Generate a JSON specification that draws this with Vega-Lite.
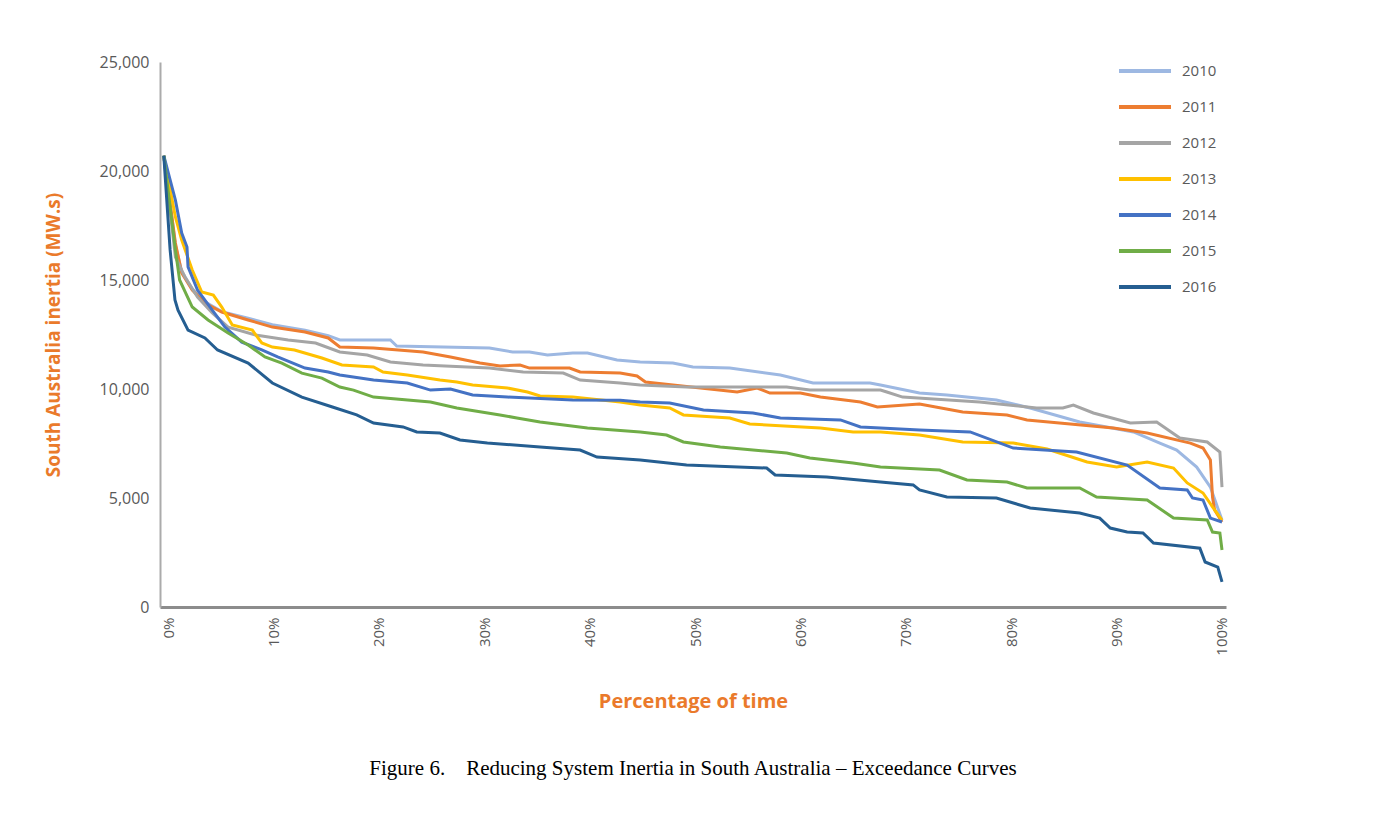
{
  "$schema": "https://vega.github.io/schema/vega-lite/v6.json",
  "width": 1066,
  "height": 545,
  "autosize": {"type": "none"},
  "padding": {"left": 160, "top": 62, "right": 148, "bottom": 207},
  "background": "white",
  "config": {"view": {"stroke": null}, "font": "Open Sans"},
  "title": {
    "text": "Figure 6.\u00a0\u00a0\u00a0 Reducing System Inertia in South Australia – Exceedance Curves",
    "orient": "bottom",
    "anchor": "middle",
    "font": "Liberation Serif",
    "fontSize": 21,
    "fontWeight": "normal",
    "color": "#000000",
    "offset": 47
  },
  "datasets": {
    "curves": [
      {"s":"2010","x":-0.4,"y":20700},{"s":"2010","x":0.7,"y":16600},{"s":"2010","x":1.3,"y":15400},{"s":"2010","x":2.3,"y":14600},{"s":"2010","x":3.5,"y":14000},{"s":"2010","x":5.1,"y":13550},{"s":"2010","x":7.6,"y":13250},{"s":"2010","x":9.9,"y":12950},{"s":"2010","x":13,"y":12700},{"s":"2010","x":15.2,"y":12450},{"s":"2010","x":16.3,"y":12250},{"s":"2010","x":21.1,"y":12250},{"s":"2010","x":21.7,"y":11970},{"s":"2010","x":30.5,"y":11880},{"s":"2010","x":32.7,"y":11700},{"s":"2010","x":34.3,"y":11700},{"s":"2010","x":36,"y":11560},{"s":"2010","x":38.4,"y":11650},{"s":"2010","x":39.8,"y":11650},{"s":"2010","x":42.6,"y":11330},{"s":"2010","x":44.8,"y":11240},{"s":"2010","x":47.9,"y":11190},{"s":"2010","x":49.8,"y":11010},{"s":"2010","x":53.3,"y":10960},{"s":"2010","x":58.1,"y":10640},{"s":"2010","x":61.2,"y":10275},{"s":"2010","x":66.6,"y":10275},{"s":"2010","x":67.6,"y":10180},{"s":"2010","x":71.3,"y":9815},{"s":"2010","x":73.9,"y":9725},{"s":"2010","x":78.6,"y":9495},{"s":"2010","x":81.8,"y":9130},{"s":"2010","x":86.5,"y":8490},{"s":"2010","x":91.6,"y":8030},{"s":"2010","x":94.1,"y":7520},{"s":"2010","x":95.7,"y":7200},{"s":"2010","x":97.6,"y":6420},{"s":"2010","x":98.9,"y":5500},{"s":"2010","x":100,"y":3990},
      {"s":"2011","x":-0.4,"y":20700},{"s":"2011","x":0.7,"y":16700},{"s":"2011","x":1.3,"y":15320},{"s":"2011","x":2.3,"y":14540},{"s":"2011","x":3.5,"y":13945},{"s":"2011","x":5.1,"y":13530},{"s":"2011","x":7.6,"y":13165},{"s":"2011","x":9.9,"y":12840},{"s":"2011","x":13,"y":12615},{"s":"2011","x":15.2,"y":12340},{"s":"2011","x":16.3,"y":11925},{"s":"2011","x":19.5,"y":11880},{"s":"2011","x":24.2,"y":11700},{"s":"2011","x":26.8,"y":11470},{"s":"2011","x":29.6,"y":11190},{"s":"2011","x":31.5,"y":11055},{"s":"2011","x":33.4,"y":11100},{"s":"2011","x":34.3,"y":10960},{"s":"2011","x":38.1,"y":10960},{"s":"2011","x":39.1,"y":10780},{"s":"2011","x":42.9,"y":10730},{"s":"2011","x":44.5,"y":10600},{"s":"2011","x":45.3,"y":10320},{"s":"2011","x":54,"y":9860},{"s":"2011","x":55.9,"y":10045},{"s":"2011","x":57.1,"y":9815},{"s":"2011","x":60,"y":9815},{"s":"2011","x":61.9,"y":9630},{"s":"2011","x":65.7,"y":9400},{"s":"2011","x":67.3,"y":9175},{"s":"2011","x":71.3,"y":9310},{"s":"2011","x":75.4,"y":8945},{"s":"2011","x":79.6,"y":8810},{"s":"2011","x":81.5,"y":8580},{"s":"2011","x":89.7,"y":8210},{"s":"2011","x":92.9,"y":7980},{"s":"2011","x":97,"y":7520},{"s":"2011","x":98.2,"y":7290},{"s":"2011","x":98.9,"y":6740},{"s":"2011","x":99.1,"y":5045},{"s":"2011","x":99.3,"y":4450},{"s":"2011","x":100,"y":3900},
      {"s":"2012","x":-0.4,"y":20700},{"s":"2012","x":0.7,"y":16055},{"s":"2012","x":1.6,"y":15140},{"s":"2012","x":2.8,"y":14220},{"s":"2012","x":4.2,"y":13490},{"s":"2012","x":5.7,"y":12840},{"s":"2012","x":8.3,"y":12475},{"s":"2012","x":11.4,"y":12250},{"s":"2012","x":14,"y":12110},{"s":"2012","x":16.3,"y":11700},{"s":"2012","x":18.9,"y":11560},{"s":"2012","x":21.1,"y":11240},{"s":"2012","x":24.2,"y":11100},{"s":"2012","x":30.5,"y":10960},{"s":"2012","x":33.7,"y":10780},{"s":"2012","x":37.5,"y":10730},{"s":"2012","x":39.1,"y":10410},{"s":"2012","x":42.9,"y":10275},{"s":"2012","x":44.8,"y":10180},{"s":"2012","x":49.2,"y":10090},{"s":"2012","x":58.7,"y":10090},{"s":"2012","x":60.9,"y":9950},{"s":"2012","x":67.6,"y":9950},{"s":"2012","x":68.2,"y":9860},{"s":"2012","x":69.7,"y":9630},{"s":"2012","x":77,"y":9400},{"s":"2012","x":82.4,"y":9130},{"s":"2012","x":84.9,"y":9130},{"s":"2012","x":85.9,"y":9265},{"s":"2012","x":87.8,"y":8900},{"s":"2012","x":91.3,"y":8440},{"s":"2012","x":93.8,"y":8490},{"s":"2012","x":96,"y":7750},{"s":"2012","x":98.6,"y":7570},{"s":"2012","x":99.8,"y":7110},{"s":"2012","x":100,"y":5500},
      {"s":"2013","x":-0.4,"y":20700},{"s":"2013","x":0.7,"y":17890},{"s":"2013","x":1.3,"y":16830},{"s":"2013","x":2.3,"y":15460},{"s":"2013","x":3.2,"y":14450},{"s":"2013","x":4.3,"y":14310},{"s":"2013","x":5.1,"y":13760},{"s":"2013","x":6.1,"y":12935},{"s":"2013","x":8,"y":12700},{"s":"2013","x":8.9,"y":12110},{"s":"2013","x":9.9,"y":11925},{"s":"2013","x":12,"y":11790},{"s":"2013","x":14.6,"y":11420},{"s":"2013","x":16.5,"y":11100},{"s":"2013","x":19.5,"y":11010},{"s":"2013","x":20.4,"y":10780},{"s":"2013","x":22.7,"y":10640},{"s":"2013","x":25.8,"y":10410},{"s":"2013","x":27.4,"y":10320},{"s":"2013","x":28.9,"y":10180},{"s":"2013","x":32.2,"y":10045},{"s":"2013","x":34.1,"y":9860},{"s":"2013","x":35.3,"y":9680},{"s":"2013","x":38.4,"y":9630},{"s":"2013","x":42.9,"y":9400},{"s":"2013","x":44.8,"y":9265},{"s":"2013","x":47.6,"y":9130},{"s":"2013","x":48.9,"y":8810},{"s":"2013","x":53.3,"y":8670},{"s":"2013","x":55.2,"y":8395},{"s":"2013","x":61.9,"y":8210},{"s":"2013","x":65,"y":8030},{"s":"2013","x":67.6,"y":8030},{"s":"2013","x":71.3,"y":7890},{"s":"2013","x":75.4,"y":7570},{"s":"2013","x":80.2,"y":7520},{"s":"2013","x":83.4,"y":7250},{"s":"2013","x":87.2,"y":6650},{"s":"2013","x":90,"y":6420},{"s":"2013","x":92.9,"y":6650},{"s":"2013","x":95.4,"y":6375},{"s":"2013","x":96.7,"y":5690},{"s":"2013","x":98.2,"y":5230},{"s":"2013","x":99.1,"y":4590},{"s":"2013","x":100,"y":3990},
      {"s":"2014","x":-0.4,"y":20700},{"s":"2014","x":0.7,"y":18670},{"s":"2014","x":1.3,"y":17150},{"s":"2014","x":1.8,"y":16510},{"s":"2014","x":1.9,"y":15600},{"s":"2014","x":2.8,"y":14540},{"s":"2014","x":4.2,"y":13620},{"s":"2014","x":5.4,"y":12840},{"s":"2014","x":7,"y":12150},{"s":"2014","x":8.9,"y":11790},{"s":"2014","x":10.4,"y":11470},{"s":"2014","x":13,"y":10960},{"s":"2014","x":15.2,"y":10780},{"s":"2014","x":16.3,"y":10640},{"s":"2014","x":19.5,"y":10410},{"s":"2014","x":22.7,"y":10275},{"s":"2014","x":24.9,"y":9950},{"s":"2014","x":26.8,"y":10000},{"s":"2014","x":28.9,"y":9725},{"s":"2014","x":32.2,"y":9630},{"s":"2014","x":38.4,"y":9500},{"s":"2014","x":42.9,"y":9480},{"s":"2014","x":44.8,"y":9400},{"s":"2014","x":47.6,"y":9360},{"s":"2014","x":50.8,"y":9040},{"s":"2014","x":55.5,"y":8900},{"s":"2014","x":58.1,"y":8670},{"s":"2014","x":63.8,"y":8580},{"s":"2014","x":65.7,"y":8260},{"s":"2014","x":67.6,"y":8210},{"s":"2014","x":71.3,"y":8120},{"s":"2014","x":76.1,"y":8030},{"s":"2014","x":80.2,"y":7290},{"s":"2014","x":86.2,"y":7110},{"s":"2014","x":91,"y":6510},{"s":"2014","x":94.1,"y":5460},{"s":"2014","x":96.7,"y":5370},{"s":"2014","x":97.2,"y":5000},{"s":"2014","x":98.2,"y":4910},{"s":"2014","x":98.9,"y":4080},{"s":"2014","x":100,"y":3900},
      {"s":"2015","x":-0.4,"y":20700},{"s":"2015","x":0.7,"y":16380},{"s":"2015","x":1.1,"y":15000},{"s":"2015","x":2.3,"y":13760},{"s":"2015","x":3.8,"y":13165},{"s":"2015","x":5.7,"y":12570},{"s":"2015","x":7.6,"y":12020},{"s":"2015","x":9.2,"y":11470},{"s":"2015","x":10.8,"y":11190},{"s":"2015","x":12.7,"y":10730},{"s":"2015","x":14.6,"y":10500},{"s":"2015","x":16.3,"y":10090},{"s":"2015","x":17.6,"y":9950},{"s":"2015","x":19.5,"y":9630},{"s":"2015","x":24.9,"y":9400},{"s":"2015","x":27.4,"y":9130},{"s":"2015","x":31.5,"y":8810},{"s":"2015","x":33.1,"y":8670},{"s":"2015","x":35.3,"y":8490},{"s":"2015","x":39.8,"y":8210},{"s":"2015","x":44.8,"y":8030},{"s":"2015","x":47.3,"y":7890},{"s":"2015","x":48.9,"y":7570},{"s":"2015","x":52.4,"y":7340},{"s":"2015","x":55.5,"y":7200},{"s":"2015","x":58.7,"y":7065},{"s":"2015","x":60.9,"y":6835},{"s":"2015","x":65,"y":6605},{"s":"2015","x":67.6,"y":6420},{"s":"2015","x":73.2,"y":6285},{"s":"2015","x":75.8,"y":5825},{"s":"2015","x":79.6,"y":5730},{"s":"2015","x":81.5,"y":5460},{"s":"2015","x":86.5,"y":5460},{"s":"2015","x":88.1,"y":5045},{"s":"2015","x":92.9,"y":4910},{"s":"2015","x":95.4,"y":4080},{"s":"2015","x":98.6,"y":3990},{"s":"2015","x":99.1,"y":3440},{"s":"2015","x":99.8,"y":3395},{"s":"2015","x":100,"y":2615},
      {"s":"2016","x":-0.4,"y":20700},{"s":"2016","x":0.2,"y":16380},{"s":"2016","x":0.66,"y":14080},{"s":"2016","x":0.95,"y":13620},{"s":"2016","x":1.9,"y":12700},{"s":"2016","x":3.5,"y":12340},{"s":"2016","x":4.7,"y":11790},{"s":"2016","x":7.6,"y":11190},{"s":"2016","x":9.9,"y":10275},{"s":"2016","x":12.7,"y":9630},{"s":"2016","x":15.6,"y":9175},{"s":"2016","x":17.9,"y":8810},{"s":"2016","x":19.5,"y":8440},{"s":"2016","x":22.3,"y":8260},{"s":"2016","x":23.6,"y":8030},{"s":"2016","x":25.8,"y":7980},{"s":"2016","x":27.7,"y":7660},{"s":"2016","x":30.3,"y":7520},{"s":"2016","x":35.3,"y":7340},{"s":"2016","x":39.1,"y":7200},{"s":"2016","x":40.7,"y":6880},{"s":"2016","x":44.8,"y":6740},{"s":"2016","x":49.2,"y":6510},{"s":"2016","x":56.8,"y":6375},{"s":"2016","x":57.6,"y":6055},{"s":"2016","x":62.5,"y":5960},{"s":"2016","x":67.6,"y":5730},{"s":"2016","x":70.7,"y":5600},{"s":"2016","x":71.3,"y":5370},{"s":"2016","x":73.9,"y":5045},{"s":"2016","x":78.6,"y":5000},{"s":"2016","x":81.8,"y":4540},{"s":"2016","x":86.5,"y":4310},{"s":"2016","x":88.4,"y":4080},{"s":"2016","x":89.4,"y":3620},{"s":"2016","x":91,"y":3440},{"s":"2016","x":92.5,"y":3395},{"s":"2016","x":93.5,"y":2935},{"s":"2016","x":97.9,"y":2700},{"s":"2016","x":98.4,"y":2065},{"s":"2016","x":99.6,"y":1835},{"s":"2016","x":100,"y":1150}
    ]
  },
  "data": {"name": "curves"},
  "mark": {"type": "line", "strokeWidth": 3, "clip": false, "interpolate": "linear"},
  "encoding": {
    "x": {
      "field": "x",
      "type": "quantitative",
      "scale": {"domain": [-0.76, 100.38], "nice": false, "zero": false},
      "axis": {
        "values": [0, 10, 20, 30, 40, 50, 60, 70, 80, 90, 100],
        "labelExpr": "datum.value + '%'",
        "labelAngle": -90,
        "labelFontSize": 15,
        "labelColor": "#595959",
        "labelPadding": 10,
        "ticks": false,
        "grid": false,
        "domainColor": "#8C8C8C",
        "domainWidth": 3,
        "labelFlush": false,
        "labelOverlap": false,
        "title": "Percentage of time",
        "titleFontSize": 20,
        "titleFontWeight": "bold",
        "titleColor": "#EA7A2B",
        "titlePadding": 36
      }
    },
    "y": {
      "field": "y",
      "type": "quantitative",
      "scale": {"domain": [0, 25000], "nice": false},
      "axis": {
        "values": [0, 5000, 10000, 15000, 20000, 25000],
        "format": ",.0f",
        "labelFontSize": 16,
        "labelColor": "#595959",
        "labelPadding": 11,
        "ticks": false,
        "grid": false,
        "domainColor": "#ABABAB",
        "domainWidth": 2,
        "labelFlush": false,
        "labelOverlap": false,
        "title": "South Australia inertia (MW.s)",
        "titleFontSize": 19,
        "titleFontWeight": "bold",
        "titleColor": "#EA7A2B",
        "titlePadding": 36
      }
    },
    "color": {
      "field": "s",
      "type": "nominal",
      "scale": {
        "domain": ["2010", "2011", "2012", "2013", "2014", "2015", "2016"],
        "range": ["#9DB8E2", "#ED7D31", "#A5A5A5", "#FFC000", "#4472C4", "#70AD47", "#255E91"]
      },
      "legend": {
        "orient": "none",
        "legendX": 957,
        "legendY": -19,
        "title": null,
        "symbolType": "stroke",
        "symbolSize": 2704,
        "symbolStrokeWidth": 4,
        "labelFontSize": 15,
        "labelColor": "#595959",
        "labelOffset": 9,
        "rowPadding": 0
      }
    }
  }
}
